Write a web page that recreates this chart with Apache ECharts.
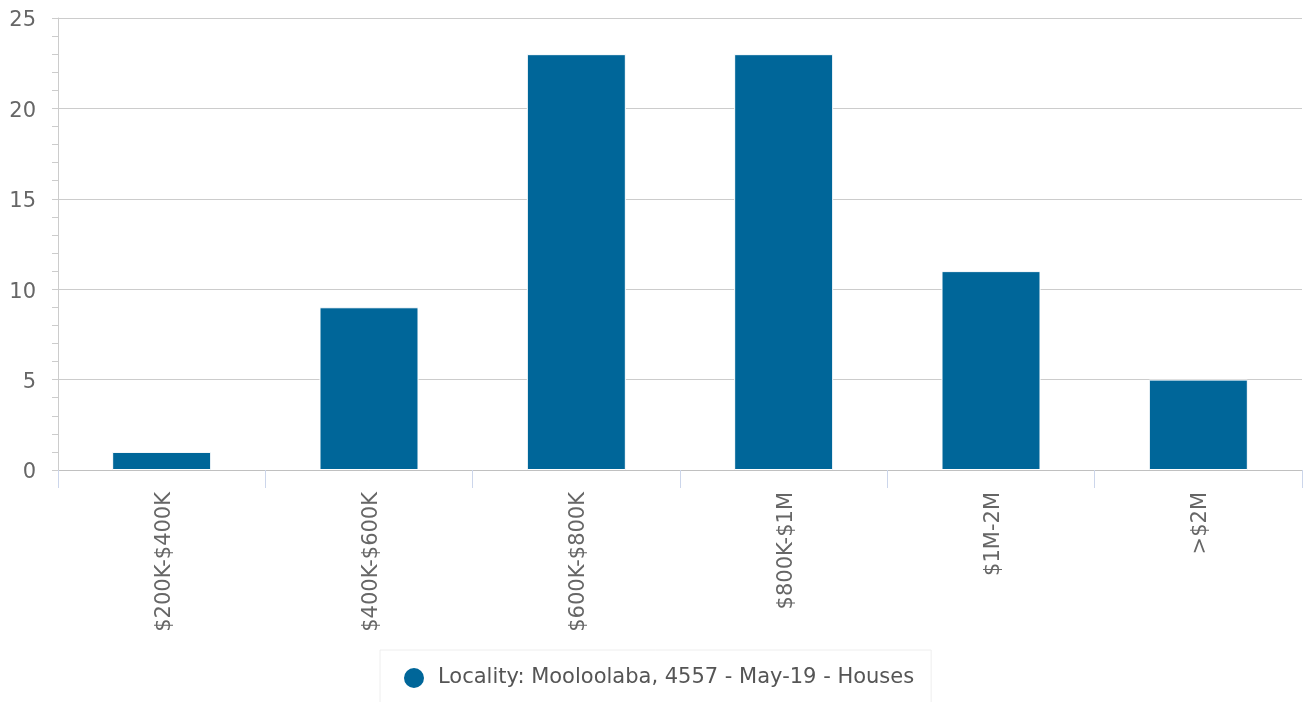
<!DOCTYPE html>
<html>
<head>
<meta charset="utf-8">
<script src="https://cdn.jsdelivr.net/npm/echarts@6/dist/echarts.min.js"></script>
<style>
html,body{margin:0;padding:0;background:#fff;}
#chart{width:1303px;height:702px;}
</style>
</head>
<body>
<div id="chart"></div>
<script>
// Price brackets and number of house sales in each
const categories = ['$200K-$400K', '$400K-$600K', '$600K-$800K', '$800K-$1M', '$1M-2M', '>$2M'];
const salesCounts = [1, 9, 23, 23, 11, 5];
const seriesName = 'Locality: Mooloolaba, 4557 - May-19 - Houses';
const yTicks = { min: 0, max: 25, interval: 5 };

const FONT = 'DejaVu Sans';
const chart = echarts.init(document.getElementById('chart'), null, { renderer: 'canvas' });

chart.setOption({
  animation: false,
  textStyle: { fontFamily: FONT },
  grid: { left: 58, right: 1, top: 18, bottom: 232, containLabel: false },
  legend: {
    data: [{ name: seriesName, icon: 'circle' }],
    top: 650,
    left: 380,
    itemWidth: 22,
    itemHeight: 22,
    itemGap: 8,
    padding: [16, 17, 16, 22],
    borderColor: '#eeeeee',
    borderWidth: 1,
    textStyle: { fontFamily: FONT, fontSize: 21, color: '#555555', padding: [0, 0, 0, 8] }
  },
  xAxis: {
    type: 'category',
    data: categories,
    axisLine: { show: true, lineStyle: { color: '#c0c0c0', width: 1 } },
    axisTick: { show: true, length: 18, alignWithLabel: false, lineStyle: { color: '#ccd6eb' } },
    axisLabel: {
      rotate: 90, margin: 22,
      formatter: v => '{t|' + v + '}',
      rich: { t: { fontSize: 21, color: '#666666', fontFamily: FONT, padding: [5, 0, 0, 0] } }
    }
  },
  yAxis: {
    type: 'value',
    min: yTicks.min,
    max: yTicks.max,
    interval: yTicks.interval,
    axisLine: { show: true, lineStyle: { color: '#cccccc' } },
    axisTick: { show: true, length: 6, lineStyle: { color: '#cccccc' } },
    minorTick: { show: true, splitNumber: 5, length: 6, lineStyle: { color: '#cccccc' } },
    splitLine: { show: true, lineStyle: { color: '#cccccc', width: 1 } },
    axisLabel: {
      margin: 22,
      formatter: v => '{t|' + v + '}',
      rich: { t: { fontSize: 21, color: '#666666', fontFamily: FONT, padding: [6, 0, 0, 0] } }
    }
  },
  series: [{
    name: seriesName,
    type: 'bar',
    data: salesCounts,
    barWidth: 99,
    itemStyle: { color: '#006699', borderColor: '#ffffff', borderWidth: 1 }
  }]
});
</script>
</body>
</html>
